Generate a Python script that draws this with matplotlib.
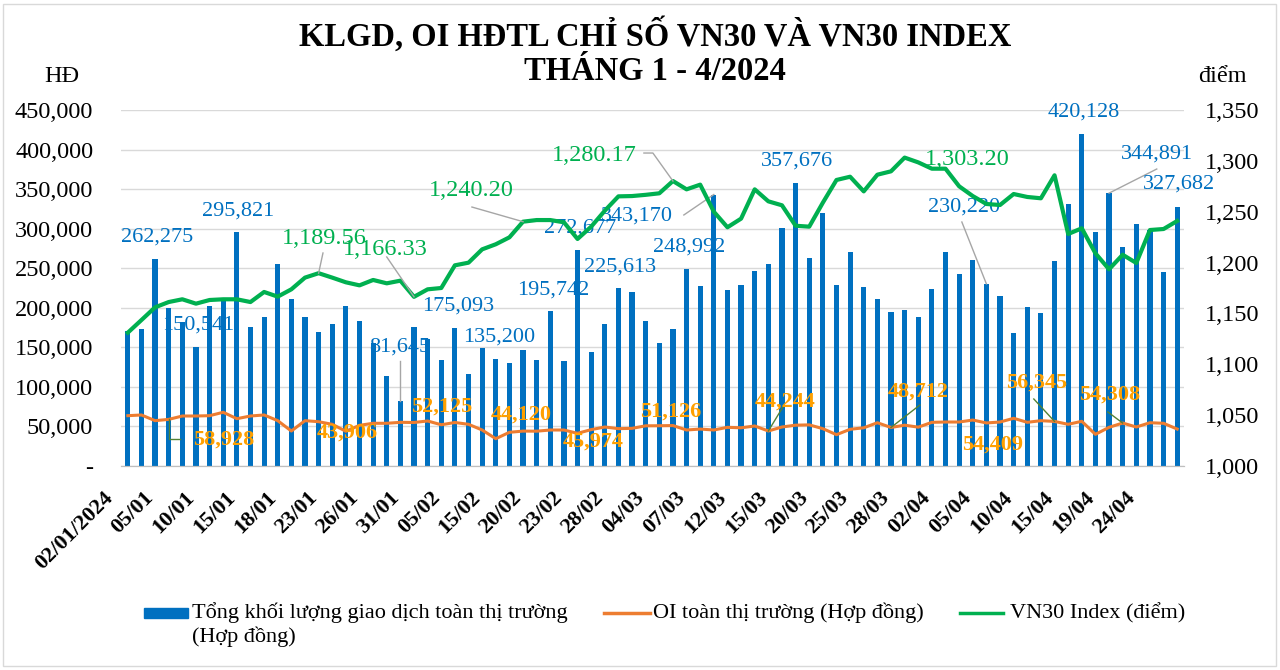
import matplotlib
matplotlib.use('Agg')
import matplotlib.pyplot as plt
import matplotlib.ticker as mticker
import matplotlib.transforms as mtransforms
from matplotlib.patches import Rectangle
from matplotlib.lines import Line2D

plt.rcParams['font.family'] = ['Liberation Serif', 'DejaVu Serif']

# ── data ──────────────────────────────────────────────────────────────────
dates = ['02/01/2024', '03/01', '04/01', '05/01', '08/01', '09/01', '10/01', '11/01',
         '12/01', '15/01', '16/01', '17/01', '18/01', '19/01', '22/01', '23/01',
         '24/01', '25/01', '26/01', '29/01', '30/01', '31/01', '01/02', '02/02',
         '05/02', '06/02', '07/02', '15/02', '16/02', '19/02', '20/02', '21/02',
         '22/02', '23/02', '26/02', '27/02', '28/02', '29/02', '01/03', '04/03',
         '05/03', '06/03', '07/03', '08/03', '11/03', '12/03', '13/03', '14/03',
         '15/03', '18/03', '19/03', '20/03', '21/03', '22/03', '25/03', '26/03',
         '27/03', '28/03', '29/03', '01/04', '02/04', '03/04', '04/04', '05/04',
         '08/04', '09/04', '10/04', '11/04', '12/04', '15/04', '16/04', '17/04',
         '19/04', '22/04', '23/04', '24/04', '25/04', '26/04']

klgd = [171000, 173600, 262275, 199700, 181600, 150541, 202000, 209000, 295821, 175700,
        188000, 255700, 210700, 188000, 169400, 179500, 201800, 183700, 156000, 114000,
        81645, 175093, 161000, 133600, 174400, 116700, 148700, 135200, 130600, 146600,
        133600, 195742, 132300, 272677, 144000, 179500, 225613, 220000, 183700, 155000,
        173600, 248992, 227000, 343170, 222500, 229000, 246500, 255000, 300400, 357676,
        263300, 319800, 228400, 270900, 226300, 210700, 195000, 196800, 188000, 224000,
        270900, 243000, 261000, 230220, 215300, 167700, 200600, 193800, 259000, 331000,
        420128, 295400, 344891, 277200, 305500, 298300, 244800, 327682]

oi = [63600, 64500, 57300, 58928, 63200, 63200, 63600, 67900, 59800, 63200,
      64500, 57300, 44200, 57300, 56000, 52700, 43906, 51400, 54000, 54000,
      55200, 55000, 56900, 52125, 55000, 52700, 45500, 34500, 42600, 44120,
      44000, 45500, 45500, 41300, 45974, 49300, 47200, 47600, 50800, 50900,
      51126, 45500, 46700, 45500, 48900, 48300, 50600, 44244, 49300, 51600,
      52000, 47200, 39600, 46400, 48300, 54700, 48712, 51600, 49100, 55200,
      55600, 55600, 58100, 54409, 55600, 60300, 55200, 57300, 56345, 52700,
      56500, 40000, 48900, 54308, 49300, 54700, 54000, 46700]

vn30 = [1131.1, 1143.5, 1156.0, 1161.2, 1163.9, 1159.6, 1163.2, 1163.9, 1163.9, 1161.2,
        1171.1, 1166.5, 1173.7, 1185.2, 1189.56, 1185.2, 1180.6, 1177.6, 1182.9, 1179.6,
        1182.2, 1166.33, 1173.7, 1175.0, 1197.3, 1199.9, 1213.0, 1218.0, 1224.8, 1240.20,
        1241.8, 1241.8, 1239.6, 1223.2, 1235.3, 1251.0, 1265.1, 1265.4, 1266.6, 1268.1,
        1280.17, 1272.0, 1276.6, 1250.0, 1234.7, 1243.2, 1272.0, 1260.2, 1256.3, 1236.2,
        1235.3, 1258.9, 1281.2, 1284.4, 1270.0, 1286.4, 1289.7, 1303.20, 1298.5, 1292.3,
        1292.3, 1275.0, 1265.4, 1257.6, 1256.6, 1267.4, 1264.5, 1263.2, 1285.8, 1228.1,
        1233.7, 1209.1, 1193.4, 1207.7, 1199.6, 1232.0, 1233.0, 1240.9]

# labelled points: index, text position, optional leader points (label side)
klgd_lbl = [(2, 2.14, 289500, None), (5, 5.15, 178200, None), (8, 8.08, 322300, None),
            (20, 19.97, 150400, [(20, 132700)]), (21, 24.22, 202200, None),
            (27, 27.23, 163100, None), (31, 31.2, 222500, None), (33, 33.18, 300800, None),
            (36, 36.1, 251500, None), (41, 41.17, 276800, None),
            (43, 37.36, 316000, [(40.8, 317300)]), (49, 49.1, 385500, None),
            (63, 61.35, 327400, [(61.2, 308400)]), (70, 70.15, 447500, None),
            (72, 75.5, 394400, [(75.5, 375400)]), (77, 77.1, 356400, None)]
oi_lbl = [(3, 7.06, 32900, [(3.83, 34100), (3.0, 34100)]), (16, 16.08, 41700, None),
          (23, 23.05, 74600, None), (29, 28.85, 64500, None), (34, 34.13, 30300, None),
          (40, 39.85, 68300, None), (47, 48.22, 80900, [(48.07, 74600)]),
          (56, 57.97, 93500, [(58.12, 77100)]), (63, 63.48, 26500, None),
          (68, 66.7, 104900, [(66.48, 84700)]), (73, 72.06, 89700, [(71.91, 68300)])]
vn_lbl = [(14, 14.39, 1224.1, [(14.32, 1209.4)]), (21, 18.87, 1213.3, [(19.0, 1205.5)]),
          (29, 25.18, 1271.3, [(25.25, 1254.6)]),
          (40, 34.2, 1305.7, [(37.87, 1307.7), (38.53, 1307.7)]),
          (57, 61.57, 1301.8, None)]

BLUE, ORANGE, GREEN = '#0070C0', '#ED7D31', '#00B050'
OI_TXT = '#FFA000'

fig = plt.figure(figsize=(12.8, 6.7), dpi=100)
ax = fig.add_axes([121/1280, 1-466/670, 1063/1280, 356/670])
ax2 = ax.twinx()
x = list(range(len(dates)))

ax.bar(x, klgd, width=0.38, color=BLUE, zorder=2)
ax.plot(x, oi, color=ORANGE, lw=2.2, zorder=3)
ax2.plot(x, vn30, color=GREEN, lw=3.0, zorder=3)

ax.set_xlim(-0.5, len(dates) - 0.5)
ax.set_ylim(0, 450000)
ax2.set_ylim(1000, 1350)
ax.yaxis.set_major_locator(mticker.MultipleLocator(50000))
ax2.yaxis.set_major_locator(mticker.MultipleLocator(50))
ax.yaxis.set_major_formatter(mticker.FuncFormatter(lambda v, p: '-' if v == 0 else f'{v:,.0f}'))
ax2.yaxis.set_major_formatter(mticker.FuncFormatter(lambda v, p: f'{v:,.0f}'))
ax.grid(axis='y', color='#D9D9D9', lw=1, zorder=0)
ax.set_axisbelow(True)
for a in (ax, ax2):
    for s in ('top', 'left', 'right'):
        a.spines[s].set_visible(False)
    a.spines['bottom'].set_color('#BFBFBF')
ax.tick_params(axis='y', length=0, labelsize=17.5, pad=20)
ax2.tick_params(axis='y', length=0, labelsize=17.5, pad=15)
ax.tick_params(axis='x', length=0)

ticks = x[::3]
ax.set_xticks(ticks)
ax.set_xticklabels([dates[i] for i in ticks], rotation=45, ha='right', va='top',
                   rotation_mode='anchor', fontsize=16, fontweight='bold')
off = mtransforms.ScaledTranslation(-18/72, -12/72, fig.dpi_scale_trans)
for lab in ax.get_xticklabels():
    lab.set_transform(lab.get_transform() + off)

def put_labels(axis, lbls, vals, fmt, color, lead, size=16, weight='normal'):
    for i, tx, ty, pts in lbls:
        axis.text(tx, ty, fmt(vals[i]), color=color, fontsize=size, fontweight=weight,
                  ha='center', va='center', zorder=5)
        if pts:
            xs = [p[0] for p in pts] + [i]
            ys = [p[1] for p in pts] + [vals[i]]
            axis.plot(xs, ys, color=lead, lw=1, zorder=4)

put_labels(ax, klgd_lbl, klgd, lambda v: f'{v:,}', BLUE, '#A6A6A6')
put_labels(ax, oi_lbl, oi, lambda v: f'{v:,}', OI_TXT, '#548235', weight='bold')
put_labels(ax2, vn_lbl, vn30, lambda v: f'{v:,.2f}', GREEN, '#A6A6A6', size=17.5)

# titles and axis units
fig.text(655/1280, 1-35/670, 'KLGD, OI HĐTL CHỈ SỐ VN30 VÀ VN30 INDEX', ha='center', va='center',
         fontsize=23.5, fontweight='bold')
fig.text(655/1280, 1-72/670, 'THÁNG 1 - 4/2024', ha='center', va='center',
         fontsize=23.5, fontweight='bold')
fig.text(62/1280, 1-76/670, 'HĐ', ha='center', va='center', fontsize=17.5)
fig.text(1222/1280, 1-76/670, 'điểm', ha='center', va='center', fontsize=17.5)

# legend drawn by hand so the handles sit on the first text line
ly = 1 - 613/670
fig.patches.append(Rectangle((144/1280, 1-618/670), 44/1280, 10/670, color=BLUE,
                             transform=fig.transFigure))
fig.text(192/1280, ly, 'Tổng khối lượng giao dịch toàn thị trường', va='center', fontsize=16)
fig.text(192/1280, 1-637/670, '(Hợp đồng)', va='center', fontsize=16)
fig.lines.append(Line2D([604/1280, 650/1280], [ly, ly], color=ORANGE, lw=2.5,
                        transform=fig.transFigure))
fig.text(653/1280, ly, 'OI toàn thị trường (Hợp đồng)', va='center', fontsize=16)
fig.lines.append(Line2D([960/1280, 1003/1280], [ly, ly], color=GREEN, lw=2.5,
                        transform=fig.transFigure))
fig.text(1010/1280, ly, 'VN30 Index (điểm)', va='center', fontsize=16)

fig.patches.append(Rectangle((3/1280, 4/670), 1273/1280, 662/670, fill=False,
                             edgecolor='#D9D9D9', lw=1, transform=fig.transFigure))

fig.savefig('out.png', dpi=100)
